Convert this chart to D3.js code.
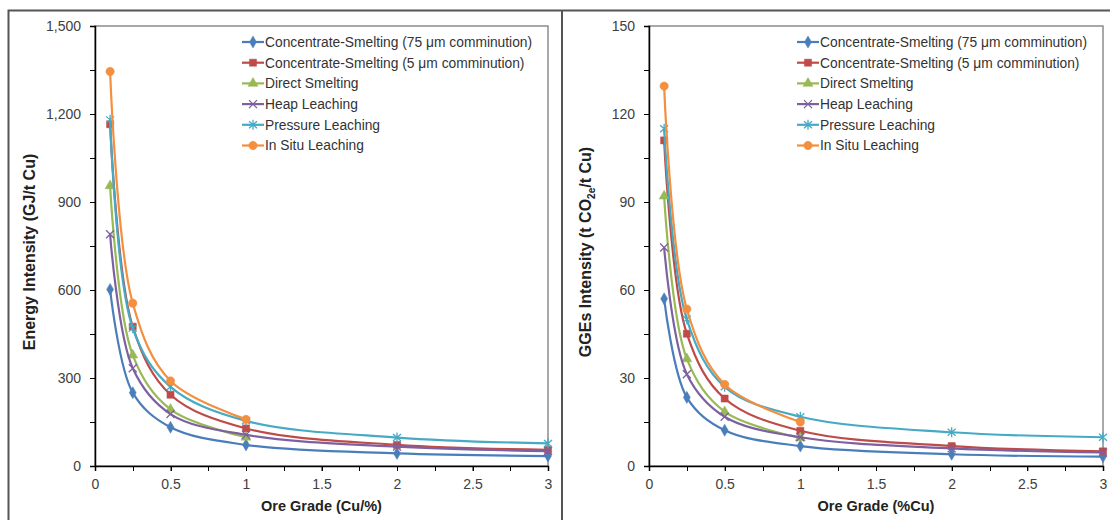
<!DOCTYPE html>
<html>
<head>
<meta charset="utf-8">
<script src="https://cdn.jsdelivr.net/npm/d3@7"></script>
<style>
  body { margin: 0; background: #fff; }
  svg text { font-family: "Liberation Sans", Arial, sans-serif; }
</style>
</head>
<body>
<svg id="chart" width="1110" height="520"></svg>
<script>
// ore grades (%Cu) at which each route was evaluated
var grades = [0.1, 0.25, 0.5, 1, 2, 3];

var routes = ['Concentrate-Smelting (75 \u03bcm comminution)',
              'Concentrate-Smelting (5 \u03bcm comminution)',
              'Direct Smelting', 'Heap Leaching', 'Pressure Leaching', 'In Situ Leaching'];

var colors = ['#4a7ebb', '#be4b48', '#98b954', '#7d60a0', '#46aac5', '#f38f3e'];
var markers = ['diamond', 'square', 'triangle', 'times', 'star', 'circle'];

// energy intensity, GJ/t Cu (null = not evaluated)
var energyCS75 = [602, 250, 132, 72, 43, 34];
var energyCS5 = [1165, 475, 243, 128, 72, 55];
var energyDS = [955, 378, 193, 98, null, null];
var energyHL = [790, 333, 177, 106, 66, 51];
var energyPL = [1180, 470, 270, 154, 97, 77];
var energyISL = [1345, 555, 290, 159, null, null];

// greenhouse gas emissions, t CO2e/t Cu
var ghgCS75 = [57, 23.4, 12.2, 6.8, 4.0, 3.2];
var ghgCS5 = [111, 45.1, 23, 12, 6.8, 5.0];
var ghgDS = [92, 36.5, 18.5, 9.6, null, null];
var ghgHL = [74.5, 31.3, 16.8, 9.8, 6.0, 4.6];
var ghgPL = [115, 50, 27, 16.8, 11.5, 9.8];
var ghgISL = [129.5, 53.5, 27.8, 15, null, null];

var energyTicks = [0, 300, 600, 900, 1200, 1500];
var ghgTicks = [0, 30, 60, 90, 120, 150];
var gradeTicks = [0, 0.5, 1, 1.5, 2, 2.5, 3];

var svg = d3.select('#chart');

// outer frame of the two panels
svg.append('path')
  .attr('d', 'M8.5,520V10.5H1110M562,10.5V520')
  .attr('fill', 'none').attr('stroke', '#555').attr('stroke-width', 2);

function markerPath(type) {
  if (type == 'times') return 'M-4,-4L4,4M-4,4L4,-4';
  if (type == 'star') return 'M-4,-3.5L4,3.5M-4,3.5L4,-3.5M0,-5V5';
  var t = {diamond: d3.symbolDiamond, square: d3.symbolSquare,
           triangle: d3.symbolTriangle, circle: d3.symbolCircle}[type];
  var size = {diamond: 42, square: 50, triangle: 44, circle: 55}[type];
  return d3.symbol(t, size)();
}

function drawPanel(p) {
  var x = d3.scaleLinear().domain([0, 3]).range([p.left, p.right]);
  var y = d3.scaleLinear().domain([0, p.ymax]).range([466, 26]);
  var g = svg.append('g');

  // plot area border (grey top/right)
  g.append('rect')
    .attr('x', p.left).attr('y', 26)
    .attr('width', p.right - p.left).attr('height', 440)
    .attr('fill', 'none').attr('stroke', '#8c8c8c').attr('stroke-width', 1.5);

  // minor ticks
  var yMinor = d3.range(0, p.ymax + 0.001, p.ymax / 10);
  g.selectAll('.ymin').data(yMinor).enter().append('line')
    .attr('x1', p.left - 5).attr('x2', p.left)
    .attr('y1', function(d) { return Math.round(y(d)) + 0.5; })
    .attr('y2', function(d) { return Math.round(y(d)) + 0.5; })
    .attr('stroke', '#000');
  var xMinor = d3.range(0, 3.001, 0.25);
  g.selectAll('.xmin').data(xMinor).enter().append('line')
    .attr('x1', function(d) { return Math.round(x(d)) + 0.5; })
    .attr('x2', function(d) { return Math.round(x(d)) + 0.5; })
    .attr('y1', 466).attr('y2', 471)
    .attr('stroke', '#000');

  var yAxis = g.append('g').attr('transform', 'translate(' + p.left + ',0)')
    .call(d3.axisLeft(y).tickValues(p.ticks).tickFormat(d3.format(',')).tickSize(5).tickPadding(9));
  var xAxis = g.append('g').attr('transform', 'translate(0,466)')
    .call(d3.axisBottom(x).tickValues(gradeTicks).tickFormat(d3.format('')).tickSize(5).tickPadding(8));
  [yAxis, xAxis].forEach(function(a) {
    a.select('.domain').attr('stroke', '#000').attr('stroke-width', 1.5);
    a.selectAll('text').attr('font-size', 14).attr('fill', '#404040');
  });

  // axis titles
  g.append('text')
    .attr('x', (p.left + p.right) / 2).attr('y', 511)
    .attr('text-anchor', 'middle').attr('font-size', 14.5).attr('font-weight', 'bold')
    .attr('fill', '#222').text(p.xTitle);
  var yt = g.append('text')
    .attr('transform', 'translate(' + p.yTitleX + ',252) rotate(-90)')
    .attr('text-anchor', 'middle').attr('font-size', 16).attr('font-weight', 'bold')
    .attr('fill', '#222');
  p.yTitle.forEach(function(part) {
    var ts = yt.append('tspan').text(part.t);
    if (part.sub) ts.attr('font-size', 10).attr('dy', 4);
    else if (part.back) ts.attr('dy', -4);
  });

  var line = d3.line()
    .defined(function(d) { return d.v != null; })
    .x(function(d) { return x(d.g); })
    .y(function(d) { return y(d.v); })
    .curve(d3.curveCatmullRom.alpha(0.5));

  p.series.forEach(function(vals, i) {
    var pts = grades.map(function(gr, j) { return {g: gr, v: vals[j]}; })
      .filter(function(d) { return d.v != null; });
    g.append('path').datum(pts)
      .attr('d', line)
      .attr('fill', 'none').attr('stroke', colors[i]).attr('stroke-width', 2.2);
    g.selectAll('.m' + i).data(pts).enter().append('path')
      .attr('transform', function(d) { return 'translate(' + x(d.g) + ',' + y(d.v) + ')'; })
      .attr('d', markerPath(markers[i]))
      .attr('fill', colors[i]).attr('stroke', colors[i])
      .attr('stroke-width', (markers[i] == 'times' || markers[i] == 'star') ? 1.3 : 0.5);
  });

  // legend
  var lg = g.append('g').attr('transform', 'translate(' + p.legendX + ',42)');
  routes.forEach(function(name, i) {
    var row = lg.append('g').attr('transform', 'translate(0,' + (i * 20.7) + ')');
    row.append('line').attr('x1', 0).attr('x2', 22).attr('y1', 0).attr('y2', 0)
      .attr('stroke', colors[i]).attr('stroke-width', 2.2);
    row.append('path').attr('transform', 'translate(11,0)')
      .attr('d', markerPath(markers[i]))
      .attr('fill', colors[i]).attr('stroke', colors[i])
      .attr('stroke-width', (markers[i] == 'times' || markers[i] == 'star') ? 1.3 : 0.5);
    row.append('text').attr('x', 23).attr('y', 4.8)
      .attr('font-size', 13.8).attr('fill', '#333').text(name);
  });
}

drawPanel({
  left: 95, right: 548, ymax: 1500, ticks: energyTicks,
  series: [energyCS75, energyCS5, energyDS, energyHL, energyPL, energyISL],
  xTitle: 'Ore Grade (Cu/%)', yTitleX: 35,
  yTitle: [{t: 'Energy Intensity (GJ/t Cu)'}],
  legendX: 242
});

drawPanel({
  left: 649, right: 1103, ymax: 150, ticks: ghgTicks,
  series: [ghgCS75, ghgCS5, ghgDS, ghgHL, ghgPL, ghgISL],
  xTitle: 'Ore Grade (%Cu)', yTitleX: 591,
  yTitle: [{t: 'GGEs Intensity (t CO'}, {t: '2e', sub: true}, {t: '/t Cu)', back: true}],
  legendX: 797
});
</script>
</body>
</html>
